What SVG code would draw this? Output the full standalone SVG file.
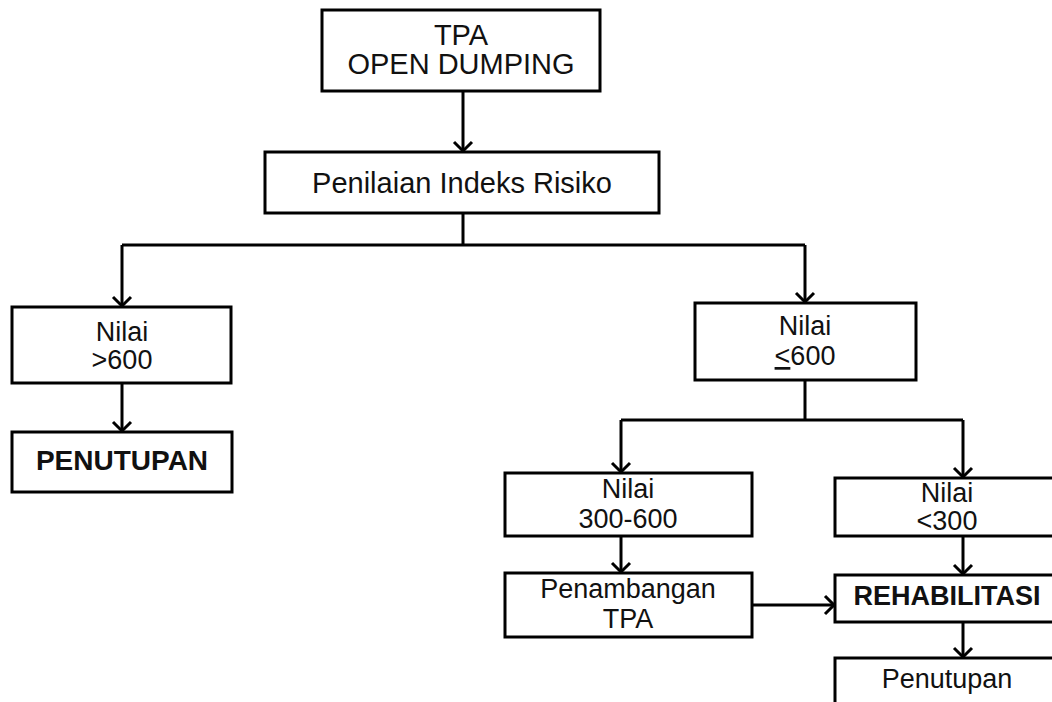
<svg xmlns="http://www.w3.org/2000/svg" width="1052" height="702" viewBox="0 0 1052 702">
<style>
.box{fill:#fff;stroke:#000;stroke-width:3}
.t{font-family:"Liberation Sans",Arial,sans-serif;font-size:29px;fill:#111;text-anchor:middle}
.s{font-size:27px}
.b{font-weight:bold;font-size:27px}
.c{fill:none;stroke:#000;stroke-width:3}
</style>
<defs>
<marker id="ah" markerUnits="userSpaceOnUse" markerWidth="22" markerHeight="22" refX="11" refY="11" orient="auto" viewBox="0 0 22 22">
<path d="M2,2 L11,11 L2,20" fill="none" stroke="#000" stroke-width="3"/>
</marker>
</defs>
<rect width="1052" height="702" fill="#fff"/>
<g id="connectors">
<path class="c" d="M463,91 V151" marker-end="url(#ah)"/>
<path class="c" d="M463,213 V245 M122,245 H805"/>
<path class="c" d="M122,245 V306" marker-end="url(#ah)"/>
<path class="c" d="M805,245 V302" marker-end="url(#ah)"/>
<path class="c" d="M122,383 V431" marker-end="url(#ah)"/>
<path class="c" d="M805,380 V420 M621,420 H963"/>
<path class="c" d="M621,420 V472" marker-end="url(#ah)"/>
<path class="c" d="M963,420 V477" marker-end="url(#ah)"/>
<path class="c" d="M621,536 V572" marker-end="url(#ah)"/>
<path class="c" d="M963,536 V574" marker-end="url(#ah)"/>
<path class="c" d="M752,605 H834" marker-end="url(#ah)"/>
<path class="c" d="M963,622 V657" marker-end="url(#ah)"/>
</g>
<g id="n-tpa">
<rect class="box" x="322" y="10" width="278" height="81"/>
<text class="t" x="461" y="45">TPA</text>
<text class="t" x="461" y="74">OPEN DUMPING</text>
</g>
<g id="n-penilaian">
<rect class="box" x="265" y="152" width="394" height="61"/>
<text class="t" x="462" y="193">Penilaian Indeks Risiko</text>
</g>
<g id="n-gt600">
<rect class="box" x="12" y="307" width="219" height="76"/>
<text class="t s" x="122" y="341">Nilai</text>
<text class="t s" x="122" y="369">&gt;600</text>
</g>
<g id="n-penutupan1">
<rect class="box" x="12" y="432" width="220" height="60"/>
<text class="t b" x="122" y="470" style="font-size:28px">PENUTUPAN</text>
</g>
<g id="n-le600">
<rect class="box" x="695" y="303" width="221" height="77"/>
<text class="t s" x="805" y="335">Nilai</text>
<text class="t s" x="805" y="365"><tspan text-decoration="underline">&lt;</tspan>600</text>
</g>
<g id="n-300-600">
<rect class="box" x="505" y="473" width="247" height="63"/>
<text class="t s" x="628" y="498">Nilai</text>
<text class="t s" x="628" y="528">300-600</text>
</g>
<g id="n-penambangan">
<rect class="box" x="505" y="573" width="247" height="64"/>
<text class="t s" x="628" y="598">Penambangan</text>
<text class="t s" x="628" y="628">TPA</text>
</g>
<g id="n-lt300">
<rect class="box" x="835" y="478" width="250" height="58"/>
<text class="t s" x="947" y="502">Nilai</text>
<text class="t s" x="947" y="530">&lt;300</text>
</g>
<g id="n-rehab">
<rect class="box" x="835" y="575" width="250" height="47"/>
<text class="t b" x="947" y="605">REHABILITASI</text>
</g>
<g id="n-penutupan2">
<rect class="box" x="835" y="658" width="250" height="70"/>
<text class="t s" x="947" y="688">Penutupan</text>
</g>
</svg>
